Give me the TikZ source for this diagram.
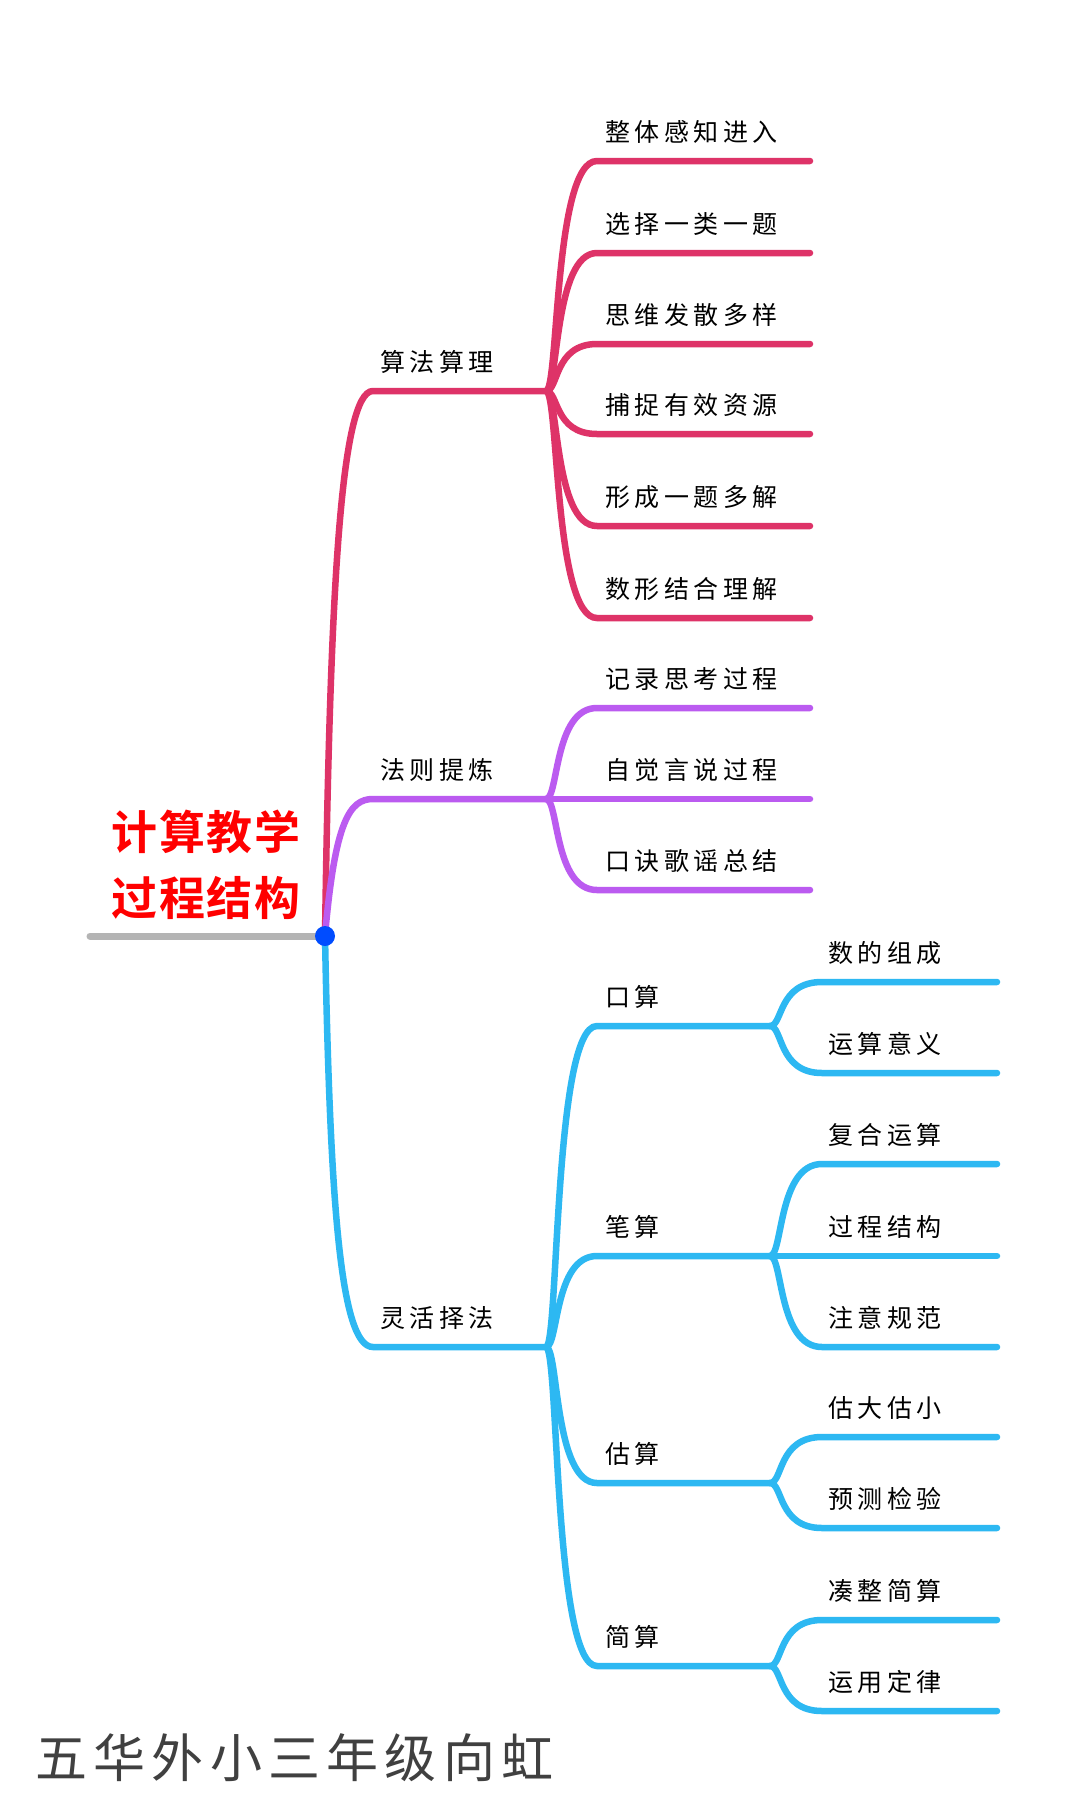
\documentclass[tikz,border=0pt]{standalone}
\usepackage{fontspec}
\setmainfont{Noto Sans CJK SC}[LetterSpace=18]
\newfontfamily\cjkbold{Noto Sans CJK SC Bold}[LetterSpace=4]
\newfontfamily\signfont{Noto Sans CJK SC}[LetterSpace=12]
\usetikzlibrary{positioning}
\definecolor{rosec}{HTML}{DE3368}
\definecolor{violc}{HTML}{BB5BF0}
\definecolor{skyc}{HTML}{2DB8F2}
\definecolor{grayc}{HTML}{B4B4B4}
% one branch: curve from hub to child, then the flat line
\newcommand{\twig}[6]{% color, hub x, hub y, child x, child y, end x
  \draw[#1, line width=6.5, line cap=round]
    (#2,#3) .. controls ({#2+0.25*(#4-#2)},#3) and ({#2+0.15*(#4-#2)},#5) .. (#4,#5) -- (#6,#5);}
\tikzset{
  leaf/.style={anchor=base west, inner sep=0, font=\fontsize{25}{28}\selectfont},
}
\begin{document}
\begin{tikzpicture}[x=1pt,y=-1pt]
    \useasboundingbox[fill=white] (0,0) rectangle (1080,1794);

    % trunk
    \draw[grayc, line width=7, line cap=round] (90,936) -- (325,936);
    \draw[rosec, line width=6.5, line cap=round] (325,936) .. controls (330,600) and (340,391) .. (373,391) -- (546,391);
    \draw[violc, line width=6.5, line cap=round] (325,936) .. controls (335,820) and (350,799) .. (373,799) -- (546,799);
    \draw[skyc, line width=6.5, line cap=round] (325,936) .. controls (330,1200) and (340,1347) .. (373,1347) -- (546,1347);

    \node[leaf] (suanfa) at (380,371) {算法算理};
    \node[leaf] (faze) at (380,779) {法则提炼};
    \node[leaf] (linghuo) at (380,1327) {灵活择法};

    % first branch
    \foreach \yy/\tx in {161/整体感知进入,253/选择一类一题,344/思维发散多样,434/捕捉有效资源,526/形成一题多解,618/数形结合理解}{
      \twig{rosec}{546}{391}{597}{\yy}{810}
      \node[leaf] at (605,\yy-20) {\tx};
    }
    % second branch
    \foreach \yy/\tx in {708/记录思考过程,799/自觉言说过程,890/口诀歌谣总结}{
      \twig{violc}{546}{799}{597}{\yy}{810}
      \node[leaf] at (605,\yy-20) {\tx};
    }
    % third branch
    \foreach \yy/\tx in {1026/口算,1256/笔算,1483/估算,1666/简算}{
      \twig{skyc}{546}{1347}{597}{\yy}{770}
      \node[leaf] at (605,\yy-20) {\tx};
    }
    \foreach \py/\yy/\tx in {1026/982/数的组成,1026/1073/运算意义,1256/1164/复合运算,1256/1256/过程结构,1256/1347/注意规范,1483/1437/估大估小,1483/1528/预测检验,1666/1620/凑整简算,1666/1711/运用定律}{
      \twig{skyc}{770}{\py}{822}{\yy}{997}
      \node[leaf] at (828,\yy-20) {\tx};
    }

    \fill[blue!70!cyan] (325,936) circle (10);

    \node[red, font=\cjkbold\fontsize{46}{66}\selectfont, align=center] (title) at (206,865) {计算教学\\过程结构};
    \node[black!75, anchor=west, font=\signfont\fontsize{52}{58}\selectfont] (sign) at (32,1758) {五华外小三年级向虹};
\end{tikzpicture}
\end{document}
